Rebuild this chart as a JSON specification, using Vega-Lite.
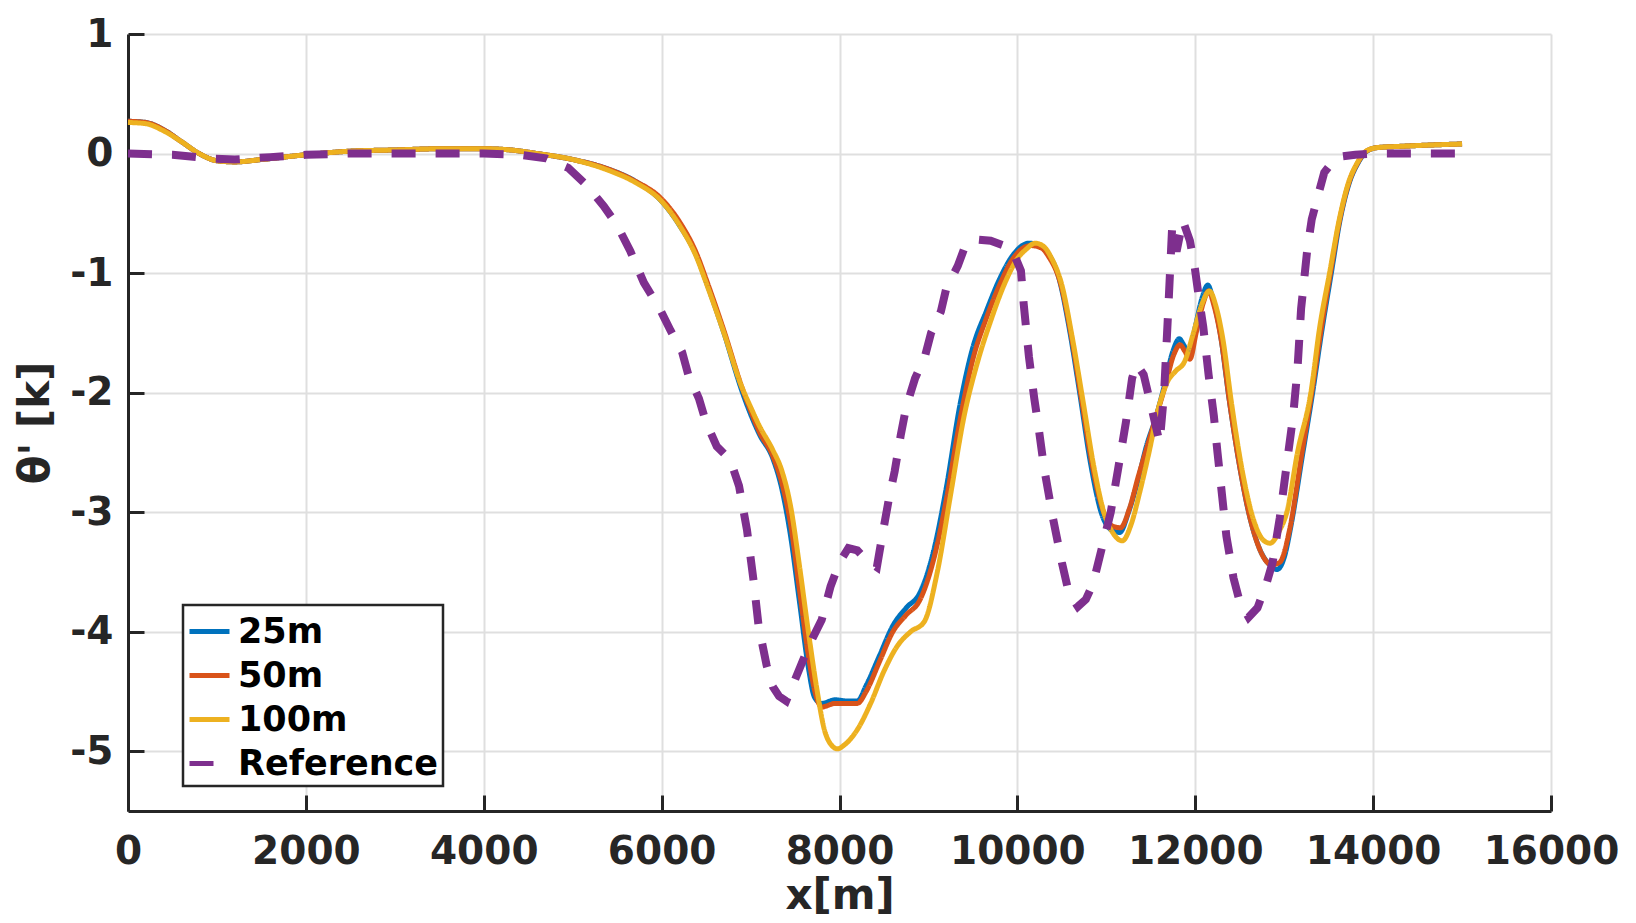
{
  "$schema": "https://vega.github.io/schema/vega-lite/v6.json",
  "width": 1423,
  "height": 777,
  "autosize": {"type": "none"},
  "padding": {"left": 128, "top": 34, "right": 85, "bottom": 112},
  "background": "white",
  "config": {
    "view": {"stroke": null},
    "font": "DejaVu Sans",
    "axis": {
      "grid": true,
      "gridColor": "#dfdfdf",
      "gridWidth": 2,
      "domainColor": "#262626",
      "domainWidth": 3,
      "tickColor": "#262626",
      "tickWidth": 3,
      "tickSize": -16,
      "labelFont": "DejaVu Sans",
      "labelFontWeight": "bold",
      "labelFontSize": 39,
      "labelColor": "#262626",
      "labelFlush": false,
      "labelOverlap": false,
      "titleFont": "DejaVu Sans",
      "titleFontWeight": "bold",
      "titleFontSize": 42,
      "titleColor": "#262626"
    }
  },
  "datasets": {
    "curves": [
      {"x":0,"y":0.27,"s":"25m"},{"x":200,"y":0.26,"s":"25m"},{"x":400,"y":0.2,"s":"25m"},{"x":600,"y":0.1,"s":"25m"},{"x":800,"y":0.0,"s":"25m"},{"x":1000,"y":-0.06,"s":"25m"},{"x":1200,"y":-0.07,"s":"25m"},{"x":1500,"y":-0.05,"s":"25m"},{"x":2000,"y":-0.01,"s":"25m"},{"x":2500,"y":0.02,"s":"25m"},{"x":3000,"y":0.03,"s":"25m"},{"x":3500,"y":0.04,"s":"25m"},{"x":4000,"y":0.04,"s":"25m"},{"x":4300,"y":0.03,"s":"25m"},{"x":4600,"y":0.0,"s":"25m"},{"x":5000,"y":-0.05,"s":"25m"},{"x":5400,"y":-0.13,"s":"25m"},{"x":5700,"y":-0.23,"s":"25m"},{"x":6000,"y":-0.4,"s":"25m"},{"x":6200,"y":-0.6,"s":"25m"},{"x":6400,"y":-0.87,"s":"25m"},{"x":6500,"y":-1.07,"s":"25m"},{"x":6700,"y":-1.5,"s":"25m"},{"x":6900,"y":-1.98,"s":"25m"},{"x":7000,"y":-2.18,"s":"25m"},{"x":7100,"y":-2.35,"s":"25m"},{"x":7250,"y":-2.55,"s":"25m"},{"x":7350,"y":-2.8,"s":"25m"},{"x":7450,"y":-3.2,"s":"25m"},{"x":7550,"y":-3.75,"s":"25m"},{"x":7650,"y":-4.3,"s":"25m"},{"x":7720,"y":-4.55,"s":"25m"},{"x":7800,"y":-4.6,"s":"25m"},{"x":7950,"y":-4.57,"s":"25m"},{"x":8100,"y":-4.58,"s":"25m"},{"x":8200,"y":-4.58,"s":"25m"},{"x":8300,"y":-4.45,"s":"25m"},{"x":8450,"y":-4.2,"s":"25m"},{"x":8600,"y":-3.95,"s":"25m"},{"x":8750,"y":-3.8,"s":"25m"},{"x":8900,"y":-3.68,"s":"25m"},{"x":9050,"y":-3.35,"s":"25m"},{"x":9200,"y":-2.8,"s":"25m"},{"x":9350,"y":-2.12,"s":"25m"},{"x":9500,"y":-1.62,"s":"25m"},{"x":9650,"y":-1.32,"s":"25m"},{"x":9800,"y":-1.05,"s":"25m"},{"x":9950,"y":-0.85,"s":"25m"},{"x":10130,"y":-0.75,"s":"25m"},{"x":10250,"y":-0.77,"s":"25m"},{"x":10330,"y":-0.82,"s":"25m"},{"x":10470,"y":-1.05,"s":"25m"},{"x":10580,"y":-1.45,"s":"25m"},{"x":10700,"y":-2.0,"s":"25m"},{"x":10820,"y":-2.58,"s":"25m"},{"x":10950,"y":-3.02,"s":"25m"},{"x":11060,"y":-3.15,"s":"25m"},{"x":11150,"y":-3.17,"s":"25m"},{"x":11250,"y":-3.0,"s":"25m"},{"x":11350,"y":-2.75,"s":"25m"},{"x":11450,"y":-2.45,"s":"25m"},{"x":11560,"y":-2.2,"s":"25m"},{"x":11650,"y":-1.95,"s":"25m"},{"x":11750,"y":-1.65,"s":"25m"},{"x":11820,"y":-1.55,"s":"25m"},{"x":11870,"y":-1.6,"s":"25m"},{"x":11930,"y":-1.68,"s":"25m"},{"x":12000,"y":-1.45,"s":"25m"},{"x":12080,"y":-1.2,"s":"25m"},{"x":12140,"y":-1.1,"s":"25m"},{"x":12200,"y":-1.22,"s":"25m"},{"x":12280,"y":-1.5,"s":"25m"},{"x":12380,"y":-2.05,"s":"25m"},{"x":12500,"y":-2.62,"s":"25m"},{"x":12600,"y":-3.0,"s":"25m"},{"x":12720,"y":-3.3,"s":"25m"},{"x":12850,"y":-3.45,"s":"25m"},{"x":12920,"y":-3.48,"s":"25m"},{"x":13000,"y":-3.38,"s":"25m"},{"x":13080,"y":-3.1,"s":"25m"},{"x":13200,"y":-2.55,"s":"25m"},{"x":13320,"y":-2.0,"s":"25m"},{"x":13420,"y":-1.5,"s":"25m"},{"x":13530,"y":-1.0,"s":"25m"},{"x":13630,"y":-0.55,"s":"25m"},{"x":13730,"y":-0.25,"s":"25m"},{"x":13830,"y":-0.08,"s":"25m"},{"x":13930,"y":0.02,"s":"25m"},{"x":14050,"y":0.05,"s":"25m"},{"x":14300,"y":0.06,"s":"25m"},{"x":14600,"y":0.07,"s":"25m"},{"x":15000,"y":0.08,"s":"25m"},

      {"x":0,"y":0.27,"s":"50m"},{"x":200,"y":0.26,"s":"50m"},{"x":400,"y":0.2,"s":"50m"},{"x":600,"y":0.1,"s":"50m"},{"x":800,"y":0.0,"s":"50m"},{"x":1000,"y":-0.06,"s":"50m"},{"x":1200,"y":-0.07,"s":"50m"},{"x":1500,"y":-0.05,"s":"50m"},{"x":2000,"y":-0.01,"s":"50m"},{"x":2500,"y":0.02,"s":"50m"},{"x":3000,"y":0.03,"s":"50m"},{"x":3500,"y":0.04,"s":"50m"},{"x":4000,"y":0.04,"s":"50m"},{"x":4300,"y":0.03,"s":"50m"},{"x":4600,"y":0.0,"s":"50m"},{"x":5000,"y":-0.05,"s":"50m"},{"x":5400,"y":-0.13,"s":"50m"},{"x":5700,"y":-0.23,"s":"50m"},{"x":6000,"y":-0.38,"s":"50m"},{"x":6200,"y":-0.57,"s":"50m"},{"x":6400,"y":-0.85,"s":"50m"},{"x":6500,"y":-1.05,"s":"50m"},{"x":6700,"y":-1.48,"s":"50m"},{"x":6900,"y":-1.95,"s":"50m"},{"x":7000,"y":-2.15,"s":"50m"},{"x":7100,"y":-2.33,"s":"50m"},{"x":7250,"y":-2.53,"s":"50m"},{"x":7350,"y":-2.75,"s":"50m"},{"x":7450,"y":-3.1,"s":"50m"},{"x":7550,"y":-3.65,"s":"50m"},{"x":7650,"y":-4.2,"s":"50m"},{"x":7730,"y":-4.52,"s":"50m"},{"x":7800,"y":-4.63,"s":"50m"},{"x":7950,"y":-4.6,"s":"50m"},{"x":8100,"y":-4.6,"s":"50m"},{"x":8200,"y":-4.6,"s":"50m"},{"x":8300,"y":-4.5,"s":"50m"},{"x":8450,"y":-4.25,"s":"50m"},{"x":8600,"y":-4.0,"s":"50m"},{"x":8750,"y":-3.86,"s":"50m"},{"x":8900,"y":-3.74,"s":"50m"},{"x":9050,"y":-3.42,"s":"50m"},{"x":9200,"y":-2.9,"s":"50m"},{"x":9350,"y":-2.25,"s":"50m"},{"x":9500,"y":-1.72,"s":"50m"},{"x":9650,"y":-1.38,"s":"50m"},{"x":9800,"y":-1.1,"s":"50m"},{"x":9950,"y":-0.88,"s":"50m"},{"x":10150,"y":-0.77,"s":"50m"},{"x":10270,"y":-0.79,"s":"50m"},{"x":10350,"y":-0.86,"s":"50m"},{"x":10490,"y":-1.1,"s":"50m"},{"x":10600,"y":-1.5,"s":"50m"},{"x":10720,"y":-2.05,"s":"50m"},{"x":10840,"y":-2.6,"s":"50m"},{"x":10970,"y":-3.0,"s":"50m"},{"x":11080,"y":-3.12,"s":"50m"},{"x":11160,"y":-3.13,"s":"50m"},{"x":11260,"y":-2.97,"s":"50m"},{"x":11360,"y":-2.7,"s":"50m"},{"x":11460,"y":-2.45,"s":"50m"},{"x":11560,"y":-2.2,"s":"50m"},{"x":11660,"y":-1.95,"s":"50m"},{"x":11760,"y":-1.68,"s":"50m"},{"x":11830,"y":-1.6,"s":"50m"},{"x":11880,"y":-1.65,"s":"50m"},{"x":11940,"y":-1.72,"s":"50m"},{"x":12010,"y":-1.5,"s":"50m"},{"x":12090,"y":-1.25,"s":"50m"},{"x":12150,"y":-1.15,"s":"50m"},{"x":12210,"y":-1.27,"s":"50m"},{"x":12290,"y":-1.55,"s":"50m"},{"x":12390,"y":-2.1,"s":"50m"},{"x":12510,"y":-2.66,"s":"50m"},{"x":12610,"y":-3.03,"s":"50m"},{"x":12730,"y":-3.32,"s":"50m"},{"x":12860,"y":-3.44,"s":"50m"},{"x":12950,"y":-3.42,"s":"50m"},{"x":13060,"y":-3.15,"s":"50m"},{"x":13190,"y":-2.55,"s":"50m"},{"x":13310,"y":-2.0,"s":"50m"},{"x":13410,"y":-1.5,"s":"50m"},{"x":13520,"y":-1.0,"s":"50m"},{"x":13625,"y":-0.55,"s":"50m"},{"x":13725,"y":-0.25,"s":"50m"},{"x":13825,"y":-0.08,"s":"50m"},{"x":13925,"y":0.02,"s":"50m"},{"x":14050,"y":0.05,"s":"50m"},{"x":14300,"y":0.06,"s":"50m"},{"x":14600,"y":0.07,"s":"50m"},{"x":15000,"y":0.08,"s":"50m"},

      {"x":0,"y":0.26,"s":"100m"},{"x":200,"y":0.25,"s":"100m"},{"x":400,"y":0.19,"s":"100m"},{"x":600,"y":0.1,"s":"100m"},{"x":800,"y":0.0,"s":"100m"},{"x":1000,"y":-0.06,"s":"100m"},{"x":1200,"y":-0.07,"s":"100m"},{"x":1500,"y":-0.05,"s":"100m"},{"x":2000,"y":-0.01,"s":"100m"},{"x":2500,"y":0.02,"s":"100m"},{"x":3000,"y":0.03,"s":"100m"},{"x":3500,"y":0.04,"s":"100m"},{"x":4000,"y":0.04,"s":"100m"},{"x":4300,"y":0.03,"s":"100m"},{"x":4600,"y":0.0,"s":"100m"},{"x":5000,"y":-0.05,"s":"100m"},{"x":5400,"y":-0.14,"s":"100m"},{"x":5700,"y":-0.24,"s":"100m"},{"x":6000,"y":-0.4,"s":"100m"},{"x":6200,"y":-0.6,"s":"100m"},{"x":6400,"y":-0.88,"s":"100m"},{"x":6500,"y":-1.08,"s":"100m"},{"x":6700,"y":-1.5,"s":"100m"},{"x":6900,"y":-1.95,"s":"100m"},{"x":7000,"y":-2.12,"s":"100m"},{"x":7100,"y":-2.28,"s":"100m"},{"x":7250,"y":-2.48,"s":"100m"},{"x":7350,"y":-2.65,"s":"100m"},{"x":7450,"y":-2.95,"s":"100m"},{"x":7550,"y":-3.45,"s":"100m"},{"x":7650,"y":-4.0,"s":"100m"},{"x":7750,"y":-4.5,"s":"100m"},{"x":7830,"y":-4.82,"s":"100m"},{"x":7900,"y":-4.94,"s":"100m"},{"x":7980,"y":-4.98,"s":"100m"},{"x":8050,"y":-4.95,"s":"100m"},{"x":8200,"y":-4.82,"s":"100m"},{"x":8350,"y":-4.6,"s":"100m"},{"x":8500,"y":-4.33,"s":"100m"},{"x":8650,"y":-4.12,"s":"100m"},{"x":8800,"y":-4.0,"s":"100m"},{"x":8950,"y":-3.92,"s":"100m"},{"x":9100,"y":-3.5,"s":"100m"},{"x":9250,"y":-2.85,"s":"100m"},{"x":9400,"y":-2.2,"s":"100m"},{"x":9550,"y":-1.75,"s":"100m"},{"x":9700,"y":-1.4,"s":"100m"},{"x":9850,"y":-1.1,"s":"100m"},{"x":10000,"y":-0.88,"s":"100m"},{"x":10100,"y":-0.8,"s":"100m"},{"x":10200,"y":-0.75,"s":"100m"},{"x":10300,"y":-0.78,"s":"100m"},{"x":10380,"y":-0.87,"s":"100m"},{"x":10500,"y":-1.1,"s":"100m"},{"x":10620,"y":-1.55,"s":"100m"},{"x":10740,"y":-2.08,"s":"100m"},{"x":10860,"y":-2.62,"s":"100m"},{"x":10980,"y":-3.02,"s":"100m"},{"x":11080,"y":-3.18,"s":"100m"},{"x":11180,"y":-3.24,"s":"100m"},{"x":11280,"y":-3.1,"s":"100m"},{"x":11380,"y":-2.82,"s":"100m"},{"x":11480,"y":-2.5,"s":"100m"},{"x":11580,"y":-2.15,"s":"100m"},{"x":11680,"y":-1.92,"s":"100m"},{"x":11780,"y":-1.82,"s":"100m"},{"x":11880,"y":-1.74,"s":"100m"},{"x":11980,"y":-1.5,"s":"100m"},{"x":12080,"y":-1.25,"s":"100m"},{"x":12160,"y":-1.15,"s":"100m"},{"x":12230,"y":-1.27,"s":"100m"},{"x":12310,"y":-1.55,"s":"100m"},{"x":12410,"y":-2.1,"s":"100m"},{"x":12530,"y":-2.66,"s":"100m"},{"x":12650,"y":-3.05,"s":"100m"},{"x":12760,"y":-3.23,"s":"100m"},{"x":12840,"y":-3.26,"s":"100m"},{"x":12950,"y":-3.15,"s":"100m"},{"x":13030,"y":-3.0,"s":"100m"},{"x":13150,"y":-2.5,"s":"100m"},{"x":13300,"y":-2.0,"s":"100m"},{"x":13400,"y":-1.45,"s":"100m"},{"x":13510,"y":-1.0,"s":"100m"},{"x":13620,"y":-0.55,"s":"100m"},{"x":13720,"y":-0.25,"s":"100m"},{"x":13820,"y":-0.08,"s":"100m"},{"x":13920,"y":0.02,"s":"100m"},{"x":14050,"y":0.05,"s":"100m"},{"x":14300,"y":0.06,"s":"100m"},{"x":14600,"y":0.07,"s":"100m"},{"x":15000,"y":0.08,"s":"100m"}
    ],
    "reference": [
      {"x":0,"y":0.0,"s":"Reference"},{"x":500,"y":-0.01,"s":"Reference"},{"x":900,"y":-0.04,"s":"Reference"},{"x":1200,"y":-0.05,"s":"Reference"},{"x":1600,"y":-0.03,"s":"Reference"},{"x":2000,"y":-0.01,"s":"Reference"},{"x":2500,"y":0.0,"s":"Reference"},{"x":3000,"y":0.0,"s":"Reference"},{"x":4000,"y":0.0,"s":"Reference"},{"x":4400,"y":-0.01,"s":"Reference"},{"x":4700,"y":-0.04,"s":"Reference"},{"x":4950,"y":-0.12,"s":"Reference"},{"x":5150,"y":-0.26,"s":"Reference"},{"x":5350,"y":-0.44,"s":"Reference"},{"x":5500,"y":-0.6,"s":"Reference"},{"x":5650,"y":-0.82,"s":"Reference"},{"x":5800,"y":-1.08,"s":"Reference"},{"x":5980,"y":-1.3,"s":"Reference"},{"x":6100,"y":-1.48,"s":"Reference"},{"x":6230,"y":-1.66,"s":"Reference"},{"x":6300,"y":-1.85,"s":"Reference"},{"x":6420,"y":-2.05,"s":"Reference"},{"x":6500,"y":-2.25,"s":"Reference"},{"x":6620,"y":-2.45,"s":"Reference"},{"x":6770,"y":-2.56,"s":"Reference"},{"x":6870,"y":-2.78,"s":"Reference"},{"x":6960,"y":-3.15,"s":"Reference"},{"x":7030,"y":-3.55,"s":"Reference"},{"x":7090,"y":-3.95,"s":"Reference"},{"x":7180,"y":-4.28,"s":"Reference"},{"x":7250,"y":-4.46,"s":"Reference"},{"x":7320,"y":-4.54,"s":"Reference"},{"x":7400,"y":-4.58,"s":"Reference"},{"x":7500,"y":-4.4,"s":"Reference"},{"x":7600,"y":-4.22,"s":"Reference"},{"x":7700,"y":-4.05,"s":"Reference"},{"x":7800,"y":-3.9,"s":"Reference"},{"x":7900,"y":-3.62,"s":"Reference"},{"x":8000,"y":-3.42,"s":"Reference"},{"x":8100,"y":-3.3,"s":"Reference"},{"x":8200,"y":-3.32,"s":"Reference"},{"x":8300,"y":-3.4,"s":"Reference"},{"x":8420,"y":-3.46,"s":"Reference"},{"x":8480,"y":-3.2,"s":"Reference"},{"x":8560,"y":-2.87,"s":"Reference"},{"x":8620,"y":-2.66,"s":"Reference"},{"x":8690,"y":-2.35,"s":"Reference"},{"x":8750,"y":-2.12,"s":"Reference"},{"x":8850,"y":-1.88,"s":"Reference"},{"x":8960,"y":-1.7,"s":"Reference"},{"x":9030,"y":-1.5,"s":"Reference"},{"x":9140,"y":-1.32,"s":"Reference"},{"x":9200,"y":-1.13,"s":"Reference"},{"x":9330,"y":-0.94,"s":"Reference"},{"x":9420,"y":-0.76,"s":"Reference"},{"x":9560,"y":-0.72,"s":"Reference"},{"x":9700,"y":-0.73,"s":"Reference"},{"x":9850,"y":-0.77,"s":"Reference"},{"x":9950,"y":-0.82,"s":"Reference"},{"x":10040,"y":-0.98,"s":"Reference"},{"x":10070,"y":-1.25,"s":"Reference"},{"x":10130,"y":-1.7,"s":"Reference"},{"x":10190,"y":-2.05,"s":"Reference"},{"x":10240,"y":-2.3,"s":"Reference"},{"x":10300,"y":-2.63,"s":"Reference"},{"x":10400,"y":-3.05,"s":"Reference"},{"x":10500,"y":-3.42,"s":"Reference"},{"x":10580,"y":-3.68,"s":"Reference"},{"x":10680,"y":-3.79,"s":"Reference"},{"x":10770,"y":-3.73,"s":"Reference"},{"x":10850,"y":-3.6,"s":"Reference"},{"x":10950,"y":-3.3,"s":"Reference"},{"x":11050,"y":-3.0,"s":"Reference"},{"x":11130,"y":-2.65,"s":"Reference"},{"x":11220,"y":-2.25,"s":"Reference"},{"x":11290,"y":-1.88,"s":"Reference"},{"x":11340,"y":-1.76,"s":"Reference"},{"x":11420,"y":-1.85,"s":"Reference"},{"x":11500,"y":-2.1,"s":"Reference"},{"x":11600,"y":-2.42,"s":"Reference"},{"x":11650,"y":-2.0,"s":"Reference"},{"x":11700,"y":-1.25,"s":"Reference"},{"x":11740,"y":-0.62,"s":"Reference"},{"x":11790,"y":-0.82,"s":"Reference"},{"x":11860,"y":-0.56,"s":"Reference"},{"x":11940,"y":-0.73,"s":"Reference"},{"x":11990,"y":-0.93,"s":"Reference"},{"x":12040,"y":-1.2,"s":"Reference"},{"x":12090,"y":-1.45,"s":"Reference"},{"x":12150,"y":-1.85,"s":"Reference"},{"x":12210,"y":-2.2,"s":"Reference"},{"x":12250,"y":-2.5,"s":"Reference"},{"x":12300,"y":-2.85,"s":"Reference"},{"x":12350,"y":-3.2,"s":"Reference"},{"x":12430,"y":-3.55,"s":"Reference"},{"x":12500,"y":-3.75,"s":"Reference"},{"x":12600,"y":-3.88,"s":"Reference"},{"x":12700,"y":-3.8,"s":"Reference"},{"x":12800,"y":-3.6,"s":"Reference"},{"x":12870,"y":-3.42,"s":"Reference"},{"x":12950,"y":-3.05,"s":"Reference"},{"x":13020,"y":-2.65,"s":"Reference"},{"x":13100,"y":-2.2,"s":"Reference"},{"x":13150,"y":-1.8,"s":"Reference"},{"x":13190,"y":-1.3,"s":"Reference"},{"x":13260,"y":-0.8,"s":"Reference"},{"x":13310,"y":-0.55,"s":"Reference"},{"x":13370,"y":-0.38,"s":"Reference"},{"x":13450,"y":-0.16,"s":"Reference"},{"x":13586,"y":-0.03,"s":"Reference"},{"x":13800,"y":-0.01,"s":"Reference"},{"x":14000,"y":0.0,"s":"Reference"},{"x":15100,"y":0.0,"s":"Reference"}
    ]
  },
  "encoding": {
    "x": {
      "field": "x", "type": "quantitative",
      "scale": {"domain": [0, 16000], "nice": false, "zero": false},
      "axis": {
        "title": "x[m]",
        "values": [0, 2000, 4000, 6000, 8000, 10000, 12000, 14000, 16000],
        "labelExpr": "'' + datum.value",
        "labelPadding": 37,
        "titlePadding": 4
      }
    },
    "y": {
      "field": "y", "type": "quantitative",
      "scale": {"domain": [-5.5, 1], "nice": false, "zero": false},
      "axis": {
        "title": "θ' [k]",
        "values": [-5, -4, -3, -2, -1, 0, 1],
        "labelExpr": "'' + datum.value",
        "labelPadding": 31,
        "titlePadding": 12
      }
    },
    "color": {
      "field": "s", "type": "nominal",
      "scale": {"domain": ["25m", "50m", "100m", "Reference"], "range": ["#0072BD", "#D95319", "#EDB120", "#7E2F8E"]},
      "legend": {
        "title": null, "orient": "none", "legendX": 55, "legendY": 571,
        "strokeColor": "#262626", "fillColor": "white",
        "padding": 4, "rowPadding": 3,
        "labelFont": "DejaVu Sans", "labelFontWeight": "bold", "labelFontSize": 35, "labelColor": "black",
        "labelOffset": 6, "labelLimit": 400,
        "symbolType": "stroke", "symbolSize": 1600, "symbolStrokeWidth": 5,
        "encode": {"legend": {"update": {"strokeWidth": {"value": 2.5}}}}
      }
    },
    "strokeDash": {
      "field": "s", "type": "nominal",
      "scale": {"domain": ["25m", "50m", "100m", "Reference"], "range": [[1, 0], [1, 0], [1, 0], [24, 20]]},
      "legend": {
        "title": null, "orient": "none", "legendX": 55, "legendY": 571,
        "strokeColor": "#262626", "fillColor": "white",
        "padding": 4, "rowPadding": 3,
        "labelFont": "DejaVu Sans", "labelFontWeight": "bold", "labelFontSize": 35, "labelColor": "black",
        "labelOffset": 6, "labelLimit": 400,
        "symbolType": "stroke", "symbolSize": 1600, "symbolStrokeWidth": 5,
        "encode": {"legend": {"update": {"strokeWidth": {"value": 2.5}}}}
      }
    }
  },
  "layer": [
    {
      "data": {"name": "curves"},
      "mark": {"type": "line", "strokeWidth": 5, "interpolate": "monotone"}
    },
    {
      "data": {"name": "reference"},
      "mark": {"type": "line", "strokeWidth": 8, "interpolate": "linear"}
    }
  ]
}
